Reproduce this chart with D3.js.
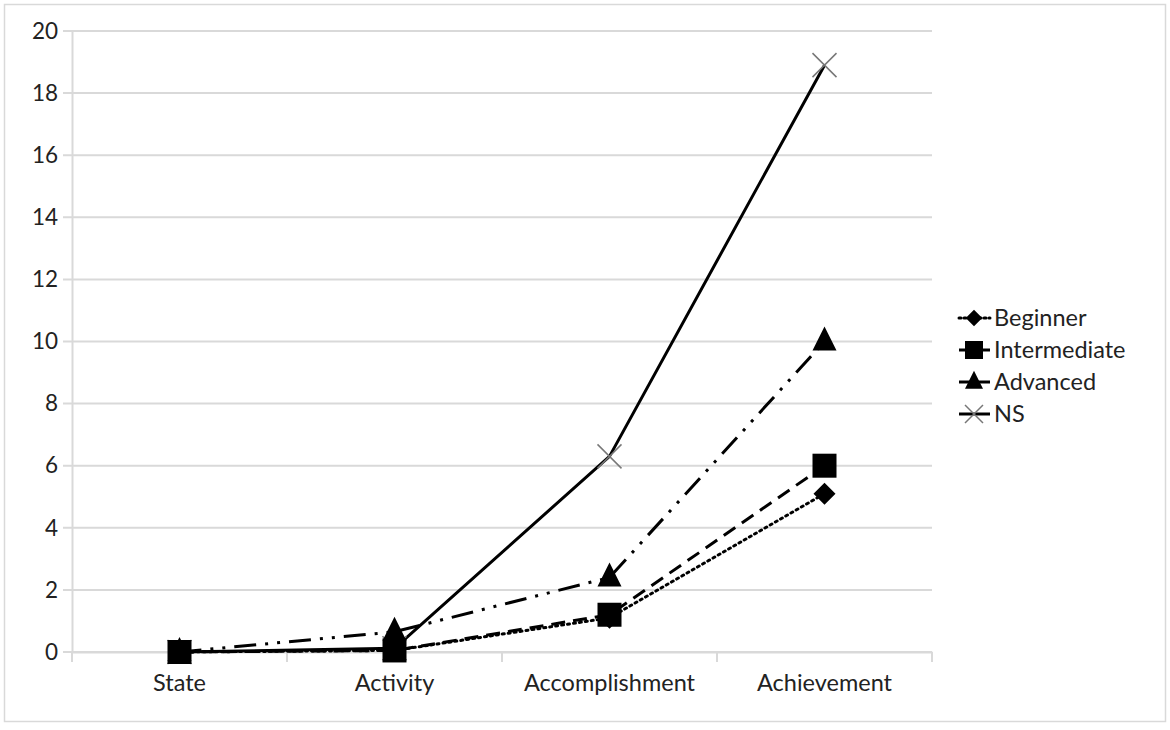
<!DOCTYPE html>
<html><head><meta charset="utf-8">
<script src="https://cdn.jsdelivr.net/npm/d3@7"></script>
<style>body{margin:0;background:#fff}svg{display:block}text{font-family:Lato,"Open Sans",sans-serif;fill:#222}</style>
</head><body><div id="c"></div>
<script>
const categories = ["State","Activity","Accomplishment","Achievement"];
const seriesNames = ["Beginner","Intermediate","Advanced","NS"];
const beginner = [0, 0.05, 1.1, 5.1];
const intermediate = [0, 0.05, 1.2, 6.0];
const advanced = [0, 0.65, 2.4, 10.0];
const ns = [0, 0.12, 6.3, 18.9];
const yTicks = [0,2,4,6,8,10,12,14,16,18,20];

const W=1170,H=730;
const FS="23.5px";
const svg=d3.select("#c").append("svg").attr("width",W).attr("height",H);
svg.append("rect").attr("x",4.5).attr("y",4.5).attr("width",1161).attr("height",717).attr("fill","#fff").attr("stroke","#d9d9d9").attr("stroke-width",1.5);

const x=d3.scaleBand().domain(categories).range([72,932]);
const y=d3.scaleLinear().domain([0,20]).range([652,31]);

svg.append("g").selectAll("line").data(yTicks).join("line")
 .attr("x1",63).attr("x2",932).attr("y1",d=>y(d)).attr("y2",d=>y(d))
 .attr("stroke","#d9d9d9").attr("stroke-width",2);
const ya=svg.append("g").attr("transform","translate(72,0)").call(d3.axisLeft(y).tickValues(yTicks).tickSize(0).tickPadding(14));
ya.select(".domain").attr("stroke","#d9d9d9").attr("stroke-width",2);
ya.selectAll("text").style("font-size","22.5px").attr("fill","#222");
const xa=svg.append("g").attr("transform","translate(0,652)").call(d3.axisBottom(x).tickSize(0).tickPadding(22));
xa.select(".domain").attr("stroke","#d9d9d9").attr("stroke-width",2);
xa.selectAll("text").style("font-size",FS).attr("fill","#222");
const bounds=[...categories.map(c=>x(c)),x.range()[1]];
svg.append("g").selectAll("line").data(bounds).join("line")
 .attr("x1",d=>d).attr("x2",d=>d).attr("y1",652).attr("y2",662).attr("stroke","#d9d9d9").attr("stroke-width",2);

const cx=c=>x(c)+x.bandwidth()/2;
const data=[
 {name:"Beginner",vals:beginner,dash:"2,4",cap:"round",marker:"diamond"},
 {name:"Intermediate",vals:intermediate,dash:"14,8",cap:"butt",marker:"square"},
 {name:"Advanced",vals:advanced,dash:"22,9,3,9,3,9",cap:"butt",marker:"triangle"},
 {name:"NS",vals:ns,dash:null,cap:"butt",marker:"x"}
];
const line=d3.line().x((d,i)=>cx(categories[i])).y(d=>y(d));
const lg=svg.append("g");
data.forEach(s=>{
 lg.append("path").datum(s.vals).attr("d",line).attr("fill","none").attr("stroke","#000")
  .attr("stroke-width",3).attr("stroke-dasharray",s.dash).attr("stroke-linecap",s.cap).attr("stroke-linejoin","round");
});
function drawMarker(g,type,px,py,scale){
 scale=scale||1;
 if(type==="diamond"){const r=11*scale;g.append("path").attr("d",`M${px},${py-r}L${px+r},${py}L${px},${py+r}L${px-r},${py}Z`).attr("fill","#000");}
 else if(type==="square"){g.append("rect").attr("x",px-12*scale).attr("y",py-12*scale).attr("width",24*scale).attr("height",24*scale).attr("fill","#000");}
 else if(type==="triangle"){g.append("path").attr("d",`M${px},${py-15*scale}L${px+12*scale},${py+9*scale}L${px-12*scale},${py+9*scale}Z`).attr("fill","#000");}
 else if(type==="x"){const r=12*scale;g.append("path").attr("d",`M${px-r},${py-r}L${px+r},${py+r}M${px-r},${py+r}L${px+r},${py-r}`).attr("stroke","#777").attr("stroke-width",1.5).attr("fill","none");}
}
const mg=svg.append("g");
[data[3],data[0],data[1],data[2]].forEach(s=>{
 s.vals.forEach((v,i)=>drawMarker(mg,s.marker,cx(categories[i]),y(v),1));
});

const leg=svg.append("g");
data.forEach((s,i)=>{
 const ly=318+i*32;
 leg.append("line").attr("x1",959).attr("x2",990).attr("y1",ly).attr("y2",ly).attr("stroke","#000").attr("stroke-width",3)
  .attr("stroke-dasharray",s.dash==="2,4"?"2,3":null).attr("stroke-linecap",s.cap);
 drawMarker(leg,s.marker,974,ly,0.75);
 leg.append("text").attr("x",994).attr("y",ly).attr("dy","0.35em").style("font-size",FS).text(s.name);
});
</script></body></html>
